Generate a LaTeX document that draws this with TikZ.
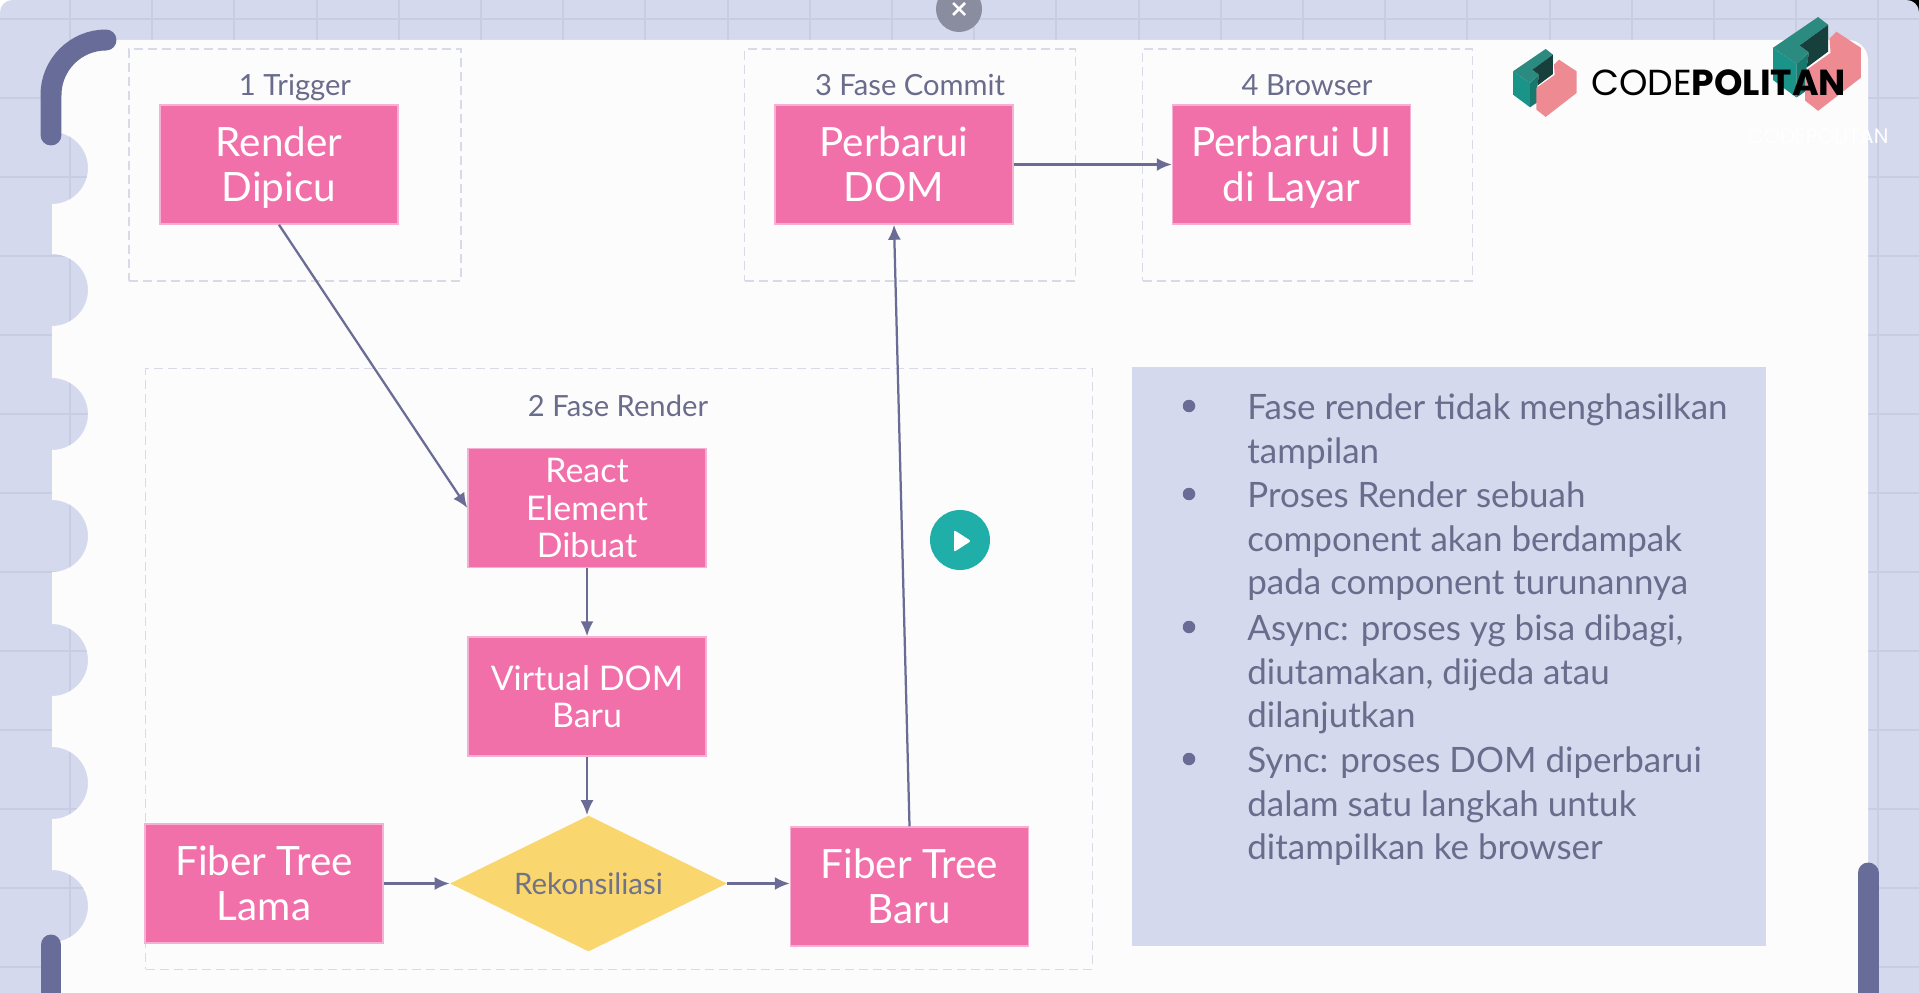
\documentclass[tikz,border=0pt]{standalone}
\usepackage{fontspec}
\setmainfont{Lato}
\newfontfamily\logofont{Poppins}
\usepackage{xcolor}
\usetikzlibrary{arrows.meta,shapes.geometric}
\definecolor{pagebg}{RGB}{212,217,238}
\definecolor{gridblue}{RGB}{200,205,228}
\definecolor{paperwhite}{RGB}{252,252,253}
\definecolor{ringblue}{RGB}{104,108,152}
\definecolor{dashgray}{RGB}{216,218,232}
\definecolor{boxpink}{RGB}{242,112,170}
\definecolor{boxrim}{RGB}{246,176,210}
\definecolor{deciyellow}{RGB}{250,215,110}
\definecolor{inktext}{RGB}{106,108,140}
\definecolor{flowblue}{RGB}{106,108,150}
\definecolor{playteal}{RGB}{32,174,168}
\definecolor{closegray}{RGB}{138,140,160}
\definecolor{logoteal}{RGB}{26,148,136}
\definecolor{logotop}{RGB}{44,139,128}
\definecolor{logomid}{RGB}{23,120,110}
\definecolor{logodark}{RGB}{23,63,60}
\definecolor{logopink}{RGB}{238,139,146}
\tikzset{
  gridline/.style={line width=1.1pt,draw=gridblue},
  ringbar/.style={line width=0.42cm,line cap=round,draw=ringblue},
  dashbox/.style={rectangle,draw=dashgray,line width=0.03cm,dash pattern=on 0.18cm off 0.1cm,inner sep=0pt},
  pinkbox/.style={rectangle,fill=boxpink,draw=boxrim,line width=0.03cm,minimum width=4.76cm,minimum height=2.38cm,inner sep=0pt,
    text=white,align=center,text depth=0pt,font=\fontsize{23}{25.5}\selectfont},
  pinksmall/.style={pinkbox,font=\fontsize{19.3}{21.5}\selectfont},
  decision/.style={diamond,fill=deciyellow,minimum width=5.54cm,minimum height=2.72cm,inner sep=0pt,aspect=2.04,
    text=inktext!70!gray,font=\fontsize{16.8}{20}\selectfont},
  steplabel/.style={anchor=base,text=inktext,font=\fontsize{16.6}{20}\selectfont,inner sep=0pt},
  flowarrow/.style={-{Latex[length=0.3cm,width=0.26cm]},line width=0.045cm,draw=flowblue},
  infobullet/.style={circle,fill=flowblue,minimum size=0.25cm,inner sep=0pt},
  infotext/.style={anchor=north west,align=left,text=inktext,inner sep=0pt,font=\fontsize{19.9}{25}\selectfont},
  logomark/.pic={
    \fill[logoteal] (0,67)--(51,102)--(51,175)--(0,137)--cycle;
    \fill[logomid] (51,102)--(78,77)--(73,110)--(73,160)--(51,175)--cycle;
    \fill[logotop] (0,67)--(98,0)--(120,17)--(58,62)--(78,77)--(51,102)--cycle;
    \fill[logodark] (58,62)--(120,17)--(120,75)--(73,110)--(78,77)--cycle;
    \fill[logopink] (138,32)--(191,67)--(191,132)--(98,204)--(70,182)--(70,117)--(125,78)--(123,47)--cycle;
  }
}
\begin{document}
\begin{tikzpicture}[x=0.02cm,y=-0.02cm]
  \useasboundingbox (0,0) rectangle (1919,993);
  \fill[pagebg] (0,0) rectangle (1919,993);

  \foreach \x in {0,...,22}{
    \draw[gridline] ({70+82.2*\x},0)--({70+82.2*\x},993);
  }
  \foreach \y in {0,...,12}{
    \draw[gridline] (0,{19+79*\y})--(1919,{19+79*\y});
  }

  \fill[paperwhite] (107,40)--(1848,40) arc[start angle=270,end angle=360,radius=20]
    --(1868,993)--(52,993)
    \foreach \y in {906,783,660,536,414,290,168}{
      --(52,\y+36) arc[start angle=90,end angle=-90,radius=36]
    }
    --(52,95) arc[start angle=180,end angle=270,radius=55]--cycle;

  \draw[ringbar] (51,135)--(51,95) arc[start angle=180,end angle=270,radius=55];
  \draw[ringbar] (51,945)--(51,1010);
  \draw[ringbar] (1868,873)--(1868,1010);

  \node[dashbox,minimum width=6.64cm,minimum height=4.64cm] (triggerbox) at (295,165) {};
  \node[dashbox,minimum width=6.62cm,minimum height=4.64cm] (commitbox) at (910,165) {};
  \node[dashbox,minimum width=6.6cm,minimum height=4.64cm] (browserbox) at (1307.5,165) {};
  \node[dashbox,minimum width=18.94cm,minimum height=12.02cm] (renderbox) at (619,669) {};

  \node[steplabel] (triggerlabel) at (295,96) {1 Trigger};
  \node[steplabel] (commitlabel) at (910,96) {3 Fase Commit};
  \node[steplabel] (browserlabel) at (1307,96) {4 Browser};
  \node[steplabel] (renderlabel) at (618,416) {2 Fase Render};

  \node[pinkbox] (dipicu) at (279,164.5) {Render\\Dipicu};
  \node[pinkbox] (dom) at (894,164.5) {Perbarui\\DOM};
  \node[pinkbox] (layar) at (1291.5,164.5) {Perbarui UI\\di Layar};
  \node[pinksmall] (element) at (587,508) {React\\Element\\Dibuat};
  \node[pinksmall] (virtual) at (587,696.5) {Virtual DOM\\Baru};
  \node[pinkbox] (lama) at (264,883.5) {Fiber Tree\\Lama};
  \node[pinkbox] (baru) at (909.5,886.5) {Fiber Tree\\Baru};
  \node[decision] (rekon) at (588.5,883.5) {Rekonsiliasi};

  \draw[flowarrow] (dipicu.south)--(element.west);
  \draw[flowarrow] (element.south)--(virtual.north);
  \draw[flowarrow] (virtual.south)--(virtual.south |- rekon.north);
  \draw[flowarrow] (lama.east |- rekon.west)--(rekon.west);
  \draw[flowarrow] (rekon.east)--(rekon.east -| baru.west);
  \draw[flowarrow] (baru.north)--(dom.south);
  \draw[flowarrow] (dom.east)--(layar.west);

  \fill[pagebg] (1132,367) rectangle (1766,946);
  \node[infobullet] (bulletA) at (1189,406) {};
  \node[infobullet] (bulletB) at (1189,494) {};
  \node[infobullet] (bulletC) at (1189,627) {};
  \node[infobullet] (bulletD) at (1189,759) {};
  \node[infotext] (itemA) at (1247,393) {Fase render tidak menghasilkan\\tampilan};
  \node[infotext] (itemB) at (1247,481) {Proses Render sebuah\\component akan berdampak\\pada component turunannya};
  \node[infotext] (itemC) at (1247,614) {Async: proses yg bisa dibagi,\\diutamakan, dijeda atau\\dilanjutkan};
  \node[infotext] (itemD) at (1247,746) {Sync: proses DOM diperbarui\\dalam satu langkah untuk\\ditampilkan ke browser};

  \node[circle,fill=playteal,minimum size=1.2cm,inner sep=0pt] (playbtn) at (960,540) {};
  \fill[white,rounded corners=0.04cm] (954,530)--(971,541)--(954,552)--cycle;
  \node[circle,fill=closegray,minimum size=0.92cm,inner sep=0pt] (closebtn) at (959,9) {};
  \draw[white,line width=0.05cm] (953,3)--(965,15) (953,15)--(965,3);

  \pic[scale=0.46] at (1773,17) {logomark};
  \pic[scale=0.333] at (1513,49) {logomark};
  \node[inner sep=0pt,anchor=west,text=black,font=\logofont\fontsize{20.6}{22}\selectfont] (logotext) at (1591,83) {CODE\textbf{POLITAN}};
  \node[inner sep=0pt,text=white,font=\logofont\fontsize{11.9}{14}\selectfont] (ghosttext) at (1818,136) {CODEPOLITAN};

  \fill[white] (0,12) arc[start angle=180,end angle=270,radius=12]--(0,0)--cycle;
  \fill[black] (1907,0) arc[start angle=270,end angle=360,radius=12]--(1919,0)--cycle;
\end{tikzpicture}
\end{document}
